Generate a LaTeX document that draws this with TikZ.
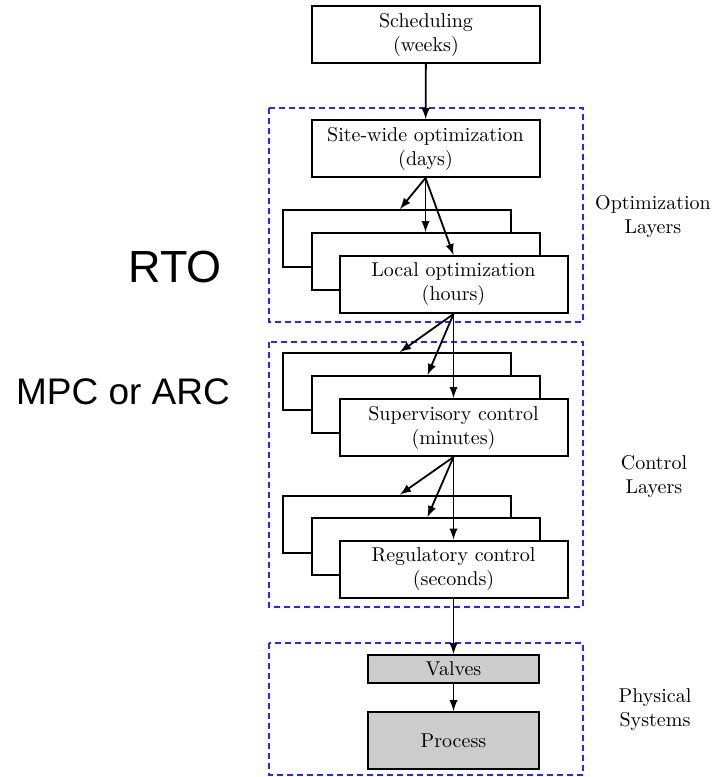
\documentclass[tikz,border=0pt]{standalone}
\usepackage{fontspec}
\newfontfamily\arialfont{Liberation Sans}
\usetikzlibrary{arrows}

\tikzset{
  blk/.style={draw,line width=1pt,fill=white,minimum width=114pt,minimum height=28.5pt,inner sep=0pt,align=center},
  grayblk/.style={blk,fill=black!20,minimum width=85.5pt},
  layer/.style={draw=blue!85,line width=1pt,dash pattern=on 3pt off 2pt},
  arr/.style={-latex,line width=0.9pt},
  side/.style={align=center},
  big/.style={font=\arialfont\fontsize{22.5}{27}\selectfont}
}

\begin{document}
\begin{tikzpicture}[x=0.5pt,y=-0.5pt]
\useasboundingbox (0,0) rectangle (715,777);
% dashed layers
\draw[layer] (269,108) rectangle (583,322);
\draw[layer] (269,342) rectangle (583,607);
\draw[layer] (269,643) rectangle (583,775);
% blocks
\node[blk] (sched) at (426,34.5) {Scheduling\\(weeks)};
\node[blk] (site) at (425.5,148.5) {Site-wide optimization\\(days)};
\node[blk] (loc1) at (397,238.5) {};
\node[blk] (loc2) at (425.5,261.5) {};
\node[blk] (loc) at (453.5,284.5) {Local optimization\\(hours)};
\node[blk] (sup1) at (397,381.5) {};
\node[blk] (sup2) at (425.5,404.5) {};
\node[blk] (sup) at (453.5,427.5) {Supervisory control\\(minutes)};
\node[blk] (reg1) at (397,524) {};
\node[blk] (reg2) at (425.5,546.5) {};
\node[blk] (reg) at (453.5,569) {Regulatory control\\(seconds)};
\node[grayblk,minimum height=14pt] (valves) at (453.5,669) {Valves};
\node[grayblk] (proc) at (453.5,740.5) {Process};
% arrows
\draw[arr] (sched) -- (site);
\draw[arr] (site.south) -- ([xshift=1.5pt]loc1.north);
\draw[arr] (site.south) -- (loc2.north);
\draw[arr] (site.south) -- (loc.north);
\draw[arr] (loc.south) -- ([xshift=1.5pt]sup1.north);
\draw[arr] (loc.south) -- ([xshift=1pt]sup2.north);
\draw[arr] (loc.south) -- (sup.north);
\draw[arr] (sup.south) -- ([xshift=1.5pt]reg1.north);
\draw[arr] (sup.south) -- ([xshift=1pt]reg2.north);
\draw[arr] (sup.south) -- (reg.north);
\draw[arr] (reg) -- (valves);
\draw[arr] (valves) -- (proc);
% labels
\node[side] (optlbl) at (653,216) {Optimization\\Layers};
\node[side] (ctrllbl) at (654,476) {Control\\Layers};
\node[side] (physlbl) at (655,710) {Physical\\Systems};
\node[big] (rto) at (175,267) {RTO};
\node[big,font=\arialfont\fontsize{18.5}{22}\selectfont] (mpc) at (123,392) {MPC or ARC};
\end{tikzpicture}
\end{document}
